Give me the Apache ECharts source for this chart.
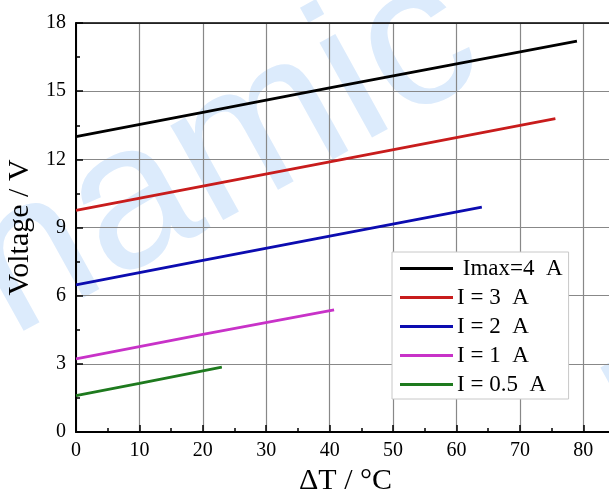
<!DOCTYPE html>
<html>
<head>
<meta charset="utf-8">
<style>html,body{margin:0;padding:0;background:#fff;}#c{width:609px;height:493px;}</style>
<script src="https://cdn.jsdelivr.net/npm/echarts@6/dist/echarts.min.js"></script>
</head>
<body>
<div id="c"></div>
<script>
// Data: [ΔT (°C), Voltage (V)] points along each straight line
const seriesNames = [' Imax=4  A', 'I = 3  A', 'I = 2  A', 'I = 1  A', 'I = 0.5  A'];
const imax4 = [[0, 13.0], [20, 14.07], [40, 15.14], [79.0, 17.2]];
const i3 = [[0, 9.75], [20, 10.82], [40, 11.89], [75.6, 13.79]];
const i2 = [[0, 6.48], [20, 7.55], [40, 8.62], [64.0, 9.9]];
const i1 = [[0, 3.22], [20, 4.3], [40.7, 5.38]];
const i05 = [[0, 1.6], [10, 2.14], [23.0, 2.85]];
const lineColors = ['#000000', '#c81c1c', '#0c0cb0', '#c832c8', '#1e7a1e'];
const xTicks = [0, 10, 20, 30, 40, 50, 60, 70, 80];
const yTicks = [0, 3, 6, 9, 12, 15, 18];

const allData = [imax4, i3, i2, i1, i05];
const serif = 'Liberation Serif';
const chart = echarts.init(document.getElementById('c'), null, {renderer: 'canvas'});
chart.setOption({
  backgroundColor: '#fff',
  animation: false,
  graphic: [
    {type: 'text', z: -10, x: -285, y: 320, rotation: 29 * Math.PI / 180,
     style: {text: 'Dynamic', font: '205px "Liberation Sans"', fill: '#dcebfc'}},
    {type: 'text', z: -10, x: 577, y: 360, rotation: 29 * Math.PI / 180,
     style: {text: 'Dynamic', font: '205px "Liberation Sans"', fill: '#dcebfc'}}
  ],
  grid: {left: 76, top: 23, bottom: 61, right: -6, containLabel: false, outerBoundsMode: 'none', show: false},
  legend: {
    orient: 'vertical', left: 392, top: 252,
    data: seriesNames,
    icon: 'rect', itemWidth: 53, itemHeight: 3, itemGap: 6,
    padding: [5, 6, 3, 8],
    backgroundColor: '#fff', borderColor: '#c8c8c8', borderWidth: 1,
    textStyle: {fontFamily: serif, fontSize: 23, color: '#000', lineHeight: 23, padding: [0, 0, 0, -1]}
  },
  xAxis: [{
    type: 'value', min: 0, max: 85, interval: 10,
    name: 'ΔT / °C', nameLocation: 'middle', nameGap: 32,
    nameTextStyle: {fontFamily: serif, fontSize: 30, color: '#000'},
    axisLine: {show: true, lineStyle: {color: '#000', width: 2}},
    axisTick: {show: true, inside: true, length: 7, lineStyle: {color: '#000', width: 1.5}},
    minorTick: {show: true, splitNumber: 2, length: 4, lineStyle: {color: '#000', width: 1.5}},
    axisLabel: {fontFamily: serif, fontSize: 20, color: '#000', margin: 9,
      formatter: v => (xTicks.indexOf(v) >= 0 ? String(v) : '')},
    splitLine: {show: true, lineStyle: {color: '#888', width: 1.2}}
  }, {
    type: 'value', min: 0, max: 85, interval: 10, position: 'top',
    axisLine: {show: true, lineStyle: {color: '#000', width: 1.5}},
    axisTick: {show: false}, axisLabel: {show: false}, splitLine: {show: false}
  }],
  yAxis: {
    type: 'value', min: 0, max: 18, interval: 3,
    name: 'Voltage / V', nameLocation: 'middle', nameGap: 31, nameRotate: 90,
    nameTextStyle: {fontFamily: serif, fontSize: 30, color: '#000'},
    axisLine: {show: true, lineStyle: {color: '#000', width: 2}},
    axisTick: {show: true, inside: true, length: 7, lineStyle: {color: '#000', width: 1.5}},
    minorTick: {show: true, splitNumber: 2, length: 4, lineStyle: {color: '#000', width: 1.5}},
    axisLabel: {fontFamily: serif, fontSize: 20, color: '#000', margin: 10,
      formatter: v => (yTicks.indexOf(v) >= 0 ? String(v) : '')},
    splitLine: {show: true, lineStyle: {color: '#888', width: 1.2}}
  },
  series: seriesNames.map((n, k) => ({
    name: n, type: 'line', data: allData[k], showSymbol: false, symbol: 'none',
    lineStyle: {color: lineColors[k], width: 2.8}, itemStyle: {color: lineColors[k]}, z: 3
  }))
});
</script>
</body>
</html>
